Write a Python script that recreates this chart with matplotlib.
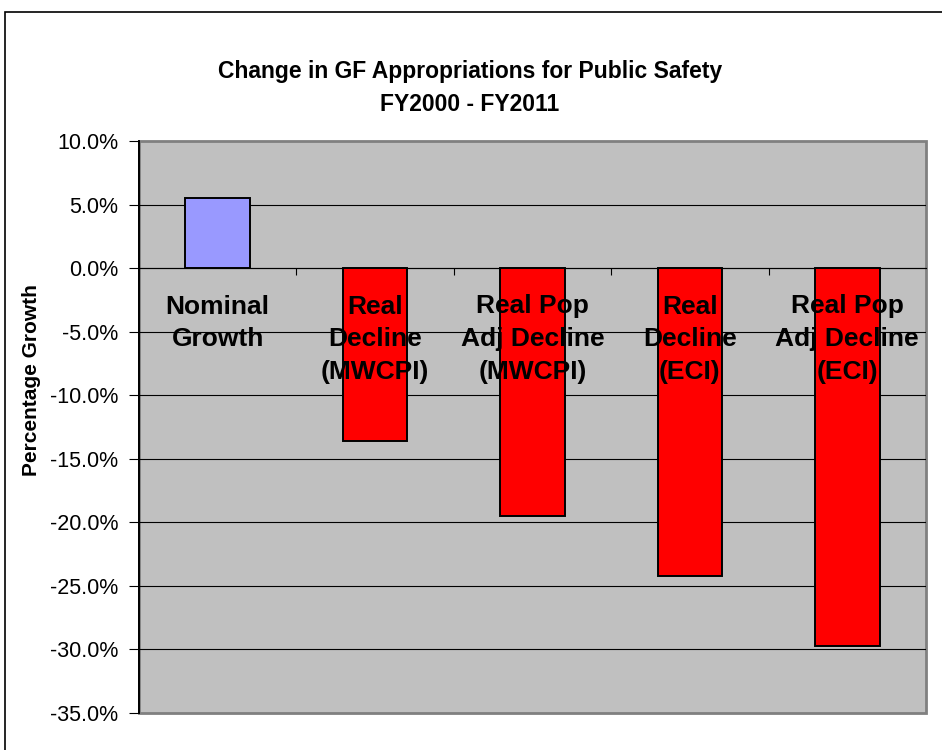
import numpy as np
import matplotlib.pyplot as plt
from matplotlib.patches import Rectangle

plt.rcParams['font.family'] = ['Liberation Sans', 'DejaVu Sans']

# growth in general fund appropriations, FY2000 to FY2011 (percent)
categories = ['Nominal\nGrowth', 'Real\nDecline\n(MWCPI)', 'Real Pop\nAdj Decline\n(MWCPI)',
              'Real\nDecline\n(ECI)', 'Real Pop\nAdj Decline\n(ECI)']
growth = [5.5, -13.6, -19.5, -24.2, -29.7]
bar_colors = ['#9999FF', '#FF0000', '#FF0000', '#FF0000', '#FF0000']
yticks = [10, 5, 0, -5, -10, -15, -20, -25, -30, -35]

fig = plt.figure(figsize=(9.42, 7.5), dpi=100)
ax = fig.add_axes([139/942, 1 - 713/750, (926 - 139)/942, (713 - 141)/750])
ax.set_facecolor('#C0C0C0')

x = np.arange(len(categories))
ax.bar(x, growth, width=0.41, color=bar_colors, edgecolor='black', linewidth=1.4, zorder=3)

ax.set_xlim(-0.5, len(categories) - 0.5)
ax.set_ylim(-35, 10)
ax.set_yticks(yticks)
ax.set_yticklabels(['%.1f%%' % v for v in yticks], fontsize=15.5)
for v in yticks[1:-1]:
    ax.axhline(v, color='black', linewidth=0.8, zorder=1)

# category axis sits on the zero line, ticks between categories
ax.spines['bottom'].set_position(('data', 0))
ax.spines['bottom'].set_linewidth(0.8)
ax.set_xticks(x[:-1] + 0.5)
ax.set_xticklabels([])
ax.tick_params(axis='x', direction='out', length=5, width=0.8, color='black')
ax.tick_params(axis='y', direction='out', length=7, width=0.8, pad=8)
ax.spines['left'].set_linewidth(1.2)
for s in ['top', 'right']:
    ax.spines[s].set_visible(False)
ax.add_patch(Rectangle((0, 0), 1, 1, transform=ax.transAxes, fill=False,
                       edgecolor='#808080', linewidth=2, zorder=0.5, clip_on=False))
ax.plot([0, 0], [0, 1], transform=ax.transAxes, color='black', linewidth=1.2, zorder=4, clip_on=False)

for i, lab in enumerate(categories):
    ax.annotate(lab, xy=(i, 0), xytext=(0, -19), textcoords='offset points',
                ha='center', va='top', fontsize=19, fontweight='bold',
                linespacing=1.45, zorder=5)

fig.text(470/942, 1 - 88/750, 'Change in GF Appropriations for Public Safety\nFY2000 - FY2011',
         ha='center', va='center', fontsize=16.5, fontweight='bold', linespacing=1.55)
fig.text(32/942, 1 - 380/750, 'Percentage Growth', rotation=90, ha='center', va='center',
         fontsize=15, fontweight='bold')

# chart border
fig.patches.append(Rectangle((5/942, -0.1), 1.2, 1 - 12/750 + 0.1, transform=fig.transFigure,
                             fill=False, edgecolor='black', linewidth=1.2))

fig.savefig('out.png', dpi=100)
